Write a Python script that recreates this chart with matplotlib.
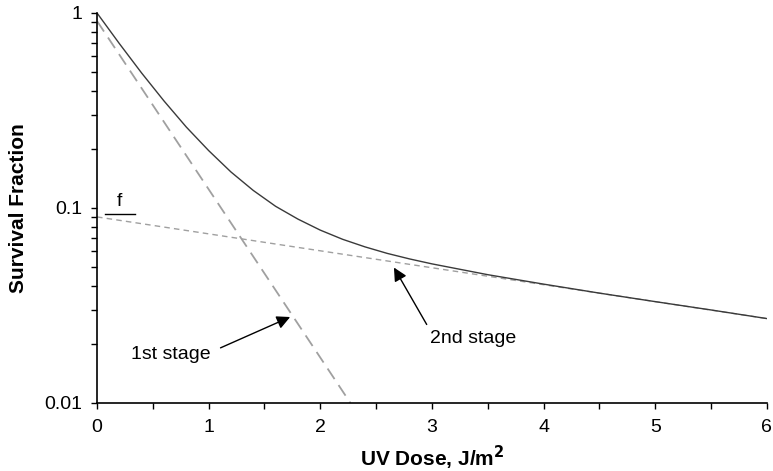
import matplotlib
matplotlib.use("Agg")
import matplotlib.pyplot as plt
from matplotlib.ticker import FixedLocator, FixedFormatter, LogLocator, NullFormatter, MultipleLocator

plt.rcParams['font.family'] = ['Liberation Sans', 'DejaVu Sans']

# Overall survival curve
dose = [0, 0.2, 0.4, 0.6, 0.8, 1.0, 1.2, 1.4, 1.6, 1.8, 2.0, 2.2, 2.4, 2.6,
        2.8, 3.0, 3.5, 4.0, 4.5, 5.0, 5.5, 6.0]
survival = [1.000, 0.697, 0.492, 0.354, 0.260, 0.197, 0.153, 0.123, 0.102,
            0.0877, 0.0770, 0.0691, 0.0632, 0.0585, 0.0548, 0.0517, 0.0455,
            0.0407, 0.0366, 0.0331, 0.0300, 0.0271]

# First-stage (fast) component
stage1_dose = [0, 2.27]
stage1_surv = [0.91, 0.01]

# Second-stage (resistant) component
stage2_dose = [0, 6]
stage2_surv = [0.09, 0.0271]

fig = plt.figure(figsize=(7.73, 4.71), dpi=100)
ax = fig.add_axes([0.1255, 0.1444, 0.8665, 0.828])

ax.plot(stage1_dose, stage1_surv, color='#a0a0a0', lw=1.3, dashes=(7, 4))
ax.plot(stage2_dose, stage2_surv, color='#a0a0a0', lw=1.0, dashes=(4, 3))
ax.plot(dose, survival, color='#3a3a3a', lw=1.0)

ax.set_yscale('log')
ax.set_xlim(0, 6)
ax.set_ylim(0.01, 1)

ax.yaxis.set_major_locator(FixedLocator([0.01, 0.1, 1]))
ax.yaxis.set_major_formatter(FixedFormatter(['0.01', '0.1', '1']))
ax.yaxis.set_minor_locator(LogLocator(base=10, subs=range(2, 10)))
ax.yaxis.set_minor_formatter(NullFormatter())
ax.xaxis.set_major_locator(MultipleLocator(1))
ax.xaxis.set_minor_locator(MultipleLocator(0.5))

for side in ('top', 'right'):
    ax.spines[side].set_visible(False)
for side in ('left', 'bottom'):
    ax.spines[side].set_linewidth(1.2)

ax.tick_params(axis='both', which='both', direction='out', width=1.0,
               length=4.5, labelsize=14, color='black')
ax.tick_params(axis='x', pad=7)
ax.tick_params(axis='y', pad=6)

ax.set_xlabel('UV Dose, J/m$^\\mathbf{2}$', fontsize=15, fontweight='bold', labelpad=6)
ax.set_ylabel('Survival Fraction', fontsize=15, fontweight='bold', labelpad=12)

# f marker
ax.plot([0.07, 0.34], [0.093, 0.093], color='black', lw=1.0)
ax.text(0.2, 0.098, 'f', fontsize=14, ha='center', va='bottom')

arrow1 = dict(arrowstyle='-|>', color='black', lw=1.0, mutation_scale=20,
              shrinkA=6, shrinkB=0, relpos=(1.0, 0.6))
arrow2 = dict(arrowstyle='-|>', color='black', lw=1.0, mutation_scale=20,
              shrinkA=2, shrinkB=0, relpos=(0.0, 1.0))
ax.annotate('1st stage', xy=(1.73, 0.0276), xytext=(0.3, 0.0178),
            fontsize=14, ha='left', va='center', arrowprops=arrow1)
ax.annotate('2nd stage', xy=(2.66, 0.0495), xytext=(2.98, 0.0215),
            fontsize=14, ha='left', va='center', arrowprops=arrow2)

fig.savefig('out.png', dpi=100)
